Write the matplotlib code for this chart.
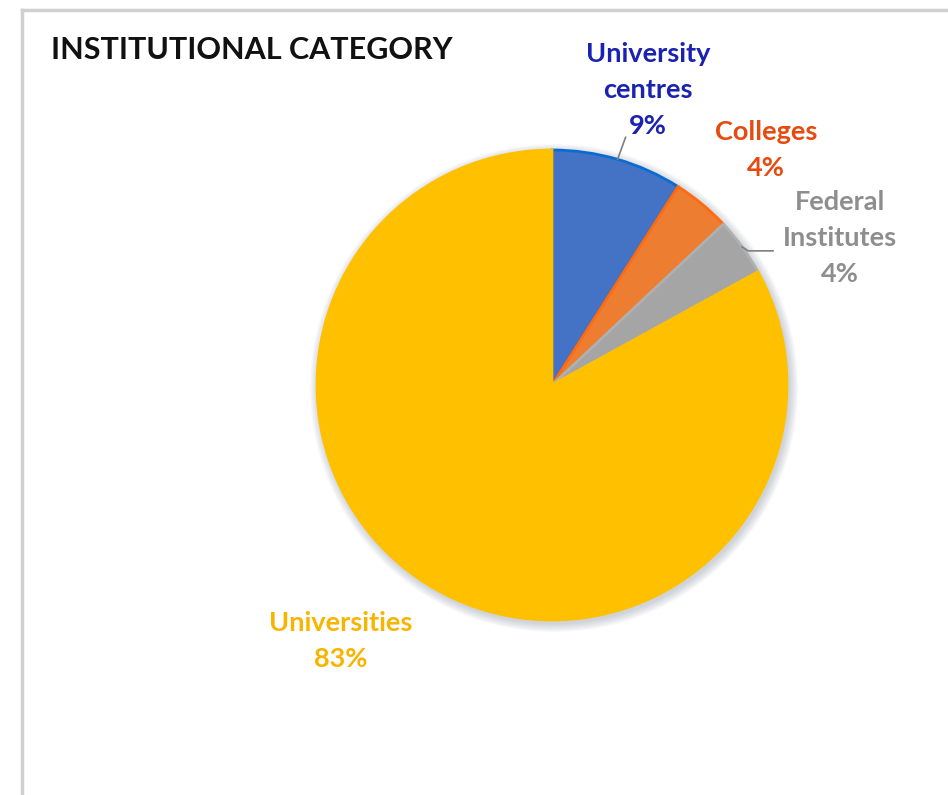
import matplotlib.pyplot as plt
import matplotlib.lines as mlines
import numpy as np

# 기관 유형별 비율 (%)
categories = ['University\ncentres', 'Colleges', 'Federal\nInstitutes', 'Universities']
shares = [9, 4, 4, 83]
slice_colors = ['#4472C4', '#ED7D31', '#A5A5A5', '#FFC000']
edge_colors = ['#0A6CD0', '#FF6A10', '#B0B0B0', '#FFC000']
label_colors = ['#1B22B0', '#E64A0E', '#8E8E8E', '#F7B500']

# 라벨 위치 (pixel, 위쪽 기준) / 지시선 여부
label_pos = [(648, 90), (766, 150), (840, 238), (341, 641)]
leader = [True, False, True, False]

W, H = 948, 795
plt.rcParams['font.family'] = ['Lato', 'DejaVu Sans']

fig = plt.figure(figsize=(W / 100, H / 100), dpi=100)
ax = fig.add_axes([0, 0, 1, 1])

cx, cy, r = 552, H - 385, 235

# 파이 그림자 (은은하게)
for k in range(10):
    sh = plt.Circle((cx + 2, cy - 3), r + 1 + k * 0.9, color='#6f7f90',
                    alpha=0.035, lw=0, zorder=1)
    ax.add_patch(sh)

wedges, _ = ax.pie(shares, colors=slice_colors, startangle=90, counterclock=False,
                   center=(cx, cy), radius=r, frame=True,
                   wedgeprops=dict(linewidth=2, zorder=2))
for w, ec in zip(wedges, edge_colors):
    w.set_edgecolor(ec)
ax.set_xlim(0, W)
ax.set_ylim(0, H)
ax.set_aspect('equal')
ax.axis('off')

for w, name, val, col, (lx, ly), ld in zip(wedges, categories, shares,
                                           label_colors, label_pos, leader):
    ax.text(lx, H - ly, f'{name}\n{val}%', color=col, fontsize=19.5,
            fontweight='bold', ha='center', va='center', linespacing=1.62)
    if ld:
        mid = np.deg2rad((w.theta1 + w.theta2) / 2)
        x0, y0 = cx + r * np.cos(mid), cy + r * np.sin(mid)
        if lx > 700:
            ax.plot([x0, x0 + 6, 773], [y0, y0 - 4, y0 - 4], color='#7f7f7f', lw=1.2)
        else:
            ax.plot([x0, x0 + 8], [y0, y0 + 22], color='#7f7f7f', lw=1.2)

# 제목
ax.text(51, H - 50, 'INSTITUTIONAL CATEGORY', fontsize=22, fontweight='bold',
        color='#111111', ha='left', va='center')

# 차트 영역 테두리 (위, 왼쪽)
fig.add_artist(mlines.Line2D([22 / W, 1], [1 - 10 / H, 1 - 10 / H],
                             color='#d0d0d0', lw=2.5))
fig.add_artist(mlines.Line2D([22 / W, 22 / W], [0, 1 - 10 / H],
                             color='#d0d0d0', lw=2.5))

fig.savefig('out.png', dpi=100)
